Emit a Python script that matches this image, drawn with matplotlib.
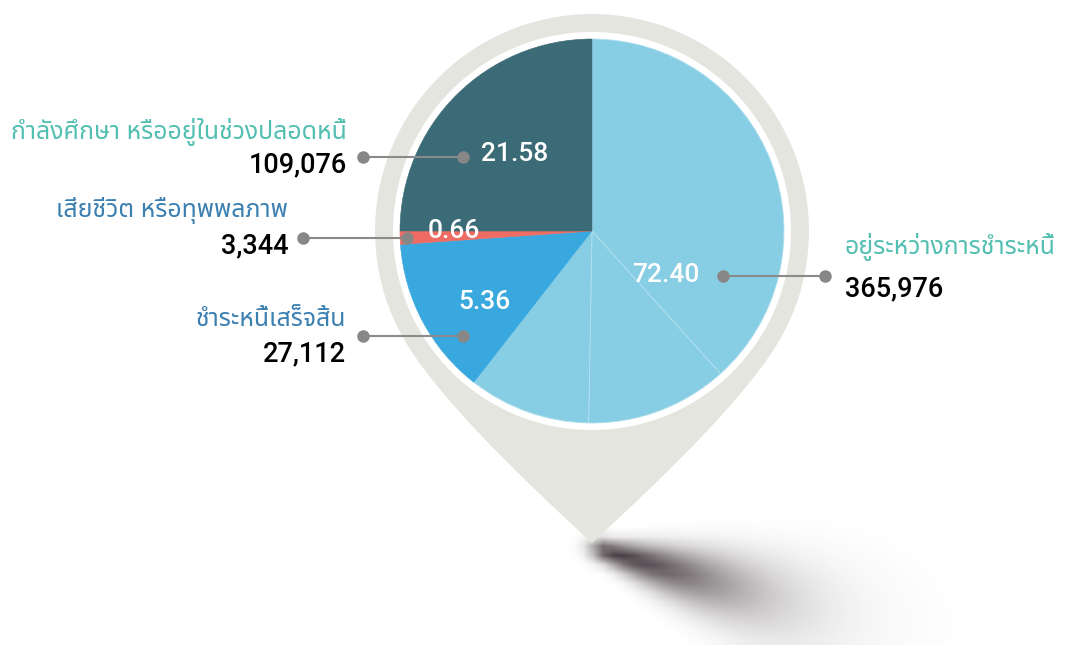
import numpy as np
import matplotlib
matplotlib.use("Agg")
import matplotlib.pyplot as plt
from matplotlib import font_manager
from matplotlib.ft2font import FT2Font
from matplotlib.path import Path
from matplotlib.patches import PathPatch, Circle

# data
categories = ['อยู่ระหว่างการชำระหนี้', 'ชำระหนี้เสร็จสิ้น',
              'เสียชีวิต หรือทุพพลภาพ', 'กำลังศึกษา หรืออยู่ในช่วงปลอดหนี้']
counts = [365976, 27112, 3344, 109076]
percents = [72.40, 5.36, 0.66, 21.58]
cat_colors = ['#52bfb1', '#3b80b1', '#3b80b1', '#52bfb1']

# slice sizes as drawn in the picture (degrees, clockwise from 12 o'clock)
drawn_angle = [138, 43, 37, 48, 4, 90]
slice_colors = ['#87cee4', '#87cee4', '#87cee4', '#38a8df', '#ee6c62', '#3b6b76']
light_slices = [0, 1, 2]


def find_thai_font():
    prefer = ['Noto Sans Thai', 'Noto Sans Thai Looped', 'Sarabun', 'Kanit',
              'Prompt', 'Loma', 'Garuda', 'Tlwg Typist', 'Umpush']
    found = []
    for f in font_manager.fontManager.ttflist:
        try:
            cmap = FT2Font(f.fname).get_charmap()
        except Exception:
            continue
        if 0x0E01 in cmap and 0x0E33 in cmap:
            found.append(f.name)
    for p in prefer:
        if p in found:
            return p
    return found[0] if found else 'DejaVu Sans'


thai_font = find_thai_font()
thai_family = [thai_font, 'DejaVu Sans']
num_family = ['Roboto', 'Liberation Sans', 'DejaVu Sans']

fig = plt.figure(figsize=(10.68, 6.45), dpi=100)
ax = fig.add_axes([0, 0, 1, 1])

cx, cy = 592, 414

# shadow under the pin tip
xs = np.linspace(530, 960, 44)
ys = np.linspace(0, 160, 17)
X, Y = np.meshgrid(xs, ys)
tipx, tipy = 605, 94
ang = np.deg2rad(-17)
u = (X - tipx) * np.cos(ang) + (Y - tipy) * np.sin(ang)
v = -(X - tipx) * np.sin(ang) + (Y - tipy) * np.cos(ang)
alpha = np.where(u >= 0,
                 0.95 * np.exp(-(u / 150.0) ** 1.8) * np.exp(-(v / (11 + 0.2 * np.abs(u))) ** 2),
                 0.95 * np.exp(-(u / 18.0) ** 2) * np.exp(-(v / 11.0) ** 2))
shadow = np.zeros(X.shape + (4,))
shadow[..., 0] = 0.23
shadow[..., 1] = 0.19
shadow[..., 2] = 0.21
shadow[..., 3] = np.clip(alpha, 0, 1)
ax.imshow(shadow, extent=(530, 960, 0, 160), origin='lower',
          interpolation='bilinear', zorder=0)

# pin outline: circle + curved tail
R = 217
a0 = np.deg2rad(-32)
p0r = (cx + R * np.cos(a0), cy + R * np.sin(a0))
p0l = (2 * cx - p0r[0], p0r[1])
tip = (cx, 102)
arc = np.deg2rad(np.linspace(212, -32, 120))
verts = [tip, (cx - 88, 183), (cx - 152, 248), p0l]
codes = [Path.MOVETO, Path.CURVE4, Path.CURVE4, Path.CURVE4]
for t in arc:
    verts.append((cx + R * np.cos(t), cy + R * np.sin(t)))
    codes.append(Path.LINETO)
verts += [(cx + 152, 248), (cx + 88, 183), tip, tip]
codes += [Path.CURVE4, Path.CURVE4, Path.CURVE4, Path.CLOSEPOLY]
ax.add_patch(PathPatch(Path(verts, codes), facecolor='#e5e5e0',
                       edgecolor='none', zorder=1))
ax.add_patch(Circle((cx, cy), 199, facecolor='white', edgecolor='none', zorder=2))

wedges, _ = ax.pie(drawn_angle, colors=slice_colors, startangle=90,
                   counterclock=False, center=(cx, cy), radius=192, frame=False)
for i, w in enumerate(wedges):
    w.set_zorder(3)
    if i in light_slices:
        w.set_edgecolor('#b3e0ef')
        w.set_linewidth(0.6)
    else:
        w.set_edgecolor(slice_colors[i])
        w.set_linewidth(0.4)

# callouts: (label side, label x, title y, number y, dot1, dot2, pct x, pct y)
callouts = [
    ('left', 845, 398, 356, (825, 369), (723, 369), 632, 370),
    ('right', 346, 326, 291, (363, 309), (463, 309), 458, 343),
    ('right', 288, 434, 399, (303, 407), (407, 407), 428, 414),
    ('right', 347, 513, 480, (363, 488), (463, 488), 481, 491),
]

for i, (side, lx, ty, ny, d1, d2, px, py) in enumerate(callouts):
    ax.plot([d1[0], d2[0]], [d1[1], d2[1]], color='#8a8a8a', lw=1.5,
            zorder=4, solid_capstyle='butt')
    ax.plot([d1[0], d2[0]], [d1[1], d2[1]], 'o', color='#878787',
            ms=9, mec='none', zorder=5)
    ax.text(lx, ty, categories[i], ha=side, va='center', fontsize=17.9,
            fontweight='semibold', color=cat_colors[i], family=thai_family,
            zorder=6)
    ax.text(lx, ny, f"{counts[i]:,}", ha=side, va='center', fontsize=19.5,
            fontweight='medium', color='black', family=num_family, zorder=6)
    ax.text(px, py, f"{percents[i]:.2f}", ha='left', va='center', fontsize=19,
            fontweight='medium', color='white', family=num_family, zorder=6)

ax.set_xlim(0, 1068)
ax.set_ylim(0, 645)
ax.set_aspect('equal')
ax.axis('off')

fig.savefig('out.png', dpi=100, facecolor='white')
